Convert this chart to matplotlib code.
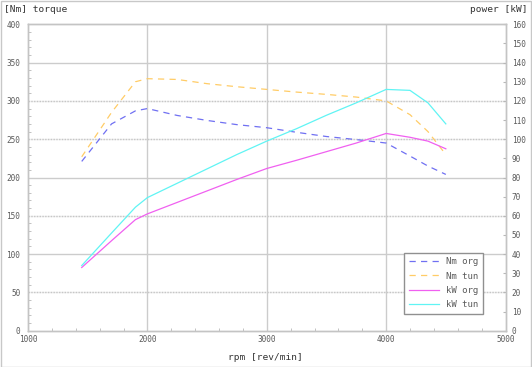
import matplotlib
matplotlib.use("Agg")
import matplotlib.pyplot as plt
from matplotlib.patches import Rectangle

plt.rcParams['lines.scale_dashes'] = False
plt.rcParams['font.family'] = ['DejaVu Sans Mono']

# ---- data ----
rpm = [1450, 1700, 1900, 2000, 2250, 2500, 2750, 3000, 3250, 3500, 3750, 4000, 4200, 4350, 4500]
nm_org = [221, 270, 287, 290, 281, 274.5, 269, 265, 259, 253.5, 249.5, 245, 228, 215, 204]
nm_tun = [227, 285, 325, 329, 328, 322.5, 318.5, 315, 311.5, 308.5, 305, 300, 282, 260, 230]
kw_org = [33, 47, 58, 61, 67, 73, 79, 84.7, 89, 93.5, 98, 103, 101, 99, 95]
kw_tun = [34, 51, 64.5, 69.5, 77, 84.5, 92, 99, 105.5, 112.5, 119, 126, 125.5, 119, 108]
series_labels = ["Nm org", "Nm tun", "kW org", "kW tun"]
x_ticks = [1000, 2000, 3000, 4000, 5000]
y_ticks = [0, 50, 100, 150, 200, 250, 300, 350, 400]
y2_ticks = list(range(0, 161, 10))

W, H = 532, 367
fig = plt.figure(figsize=(W / 100, H / 100), dpi=100)
L, R, B, T = 28, 505.5, 330.7, 24.3
ax = fig.add_axes([L / W, (H - B) / H, (R - L) / W, (B - T) / H])
ax2 = ax.twinx()

grey = '#cccccc'
txt = '#5a5a5a'

ax.set_xlim(1000, 5000)
ax.set_ylim(0, 400)
ax2.set_ylim(0, 160)

# grid
for v in [100, 200, 350]:
    ax.axhline(v, color=grey, lw=1.0, zorder=0)
for v in [50, 150, 250, 300]:
    ax.axhline(v, color='#eeeeee', lw=1.0, zorder=0)
    ax.axhline(v, color='#c6c6c6', lw=1.0, ls=(0, (1, 1)), zorder=0)
for v in [2000, 3000, 4000]:
    ax.axvline(v, color=grey, lw=1.0, zorder=0)

# spines
for s in ['left', 'bottom', 'top', 'right']:
    for a in (ax, ax2):
        a.spines[s].set_color('#c4c4c4')
        a.spines[s].set_linewidth(1.0)
for a in (ax, ax2):
    a.spines['top'].set_linestyle((0, (1, 1)))
    a.spines['bottom'].set_linestyle((0, (1, 1)))
ax2.spines['right'].set_linestyle((0, (1, 1)))

# lines
h1, = ax.plot(rpm, nm_org, color='#7070f2', lw=0.9, dashes=(4.5, 3.8), label=series_labels[0])
h2, = ax.plot(rpm, nm_tun, color='#ffcc66', lw=0.9, dashes=(4.5, 3.8), label=series_labels[1])
h3, = ax2.plot(rpm, kw_org, color='#f060f0', lw=0.9, label=series_labels[2])
h4, = ax2.plot(rpm, kw_tun, color='#60f4f4', lw=0.9, label=series_labels[3])

# ticks
ax.set_xticks(x_ticks)
ax.set_xticks(range(1000, 5001, 200), minor=True)
ax.set_yticks(y_ticks)
ax.set_yticks(range(0, 401, 10), minor=True)
ax2.set_yticks(y2_ticks)
ax.tick_params(axis='both', which='both', direction='in', colors='#b8b8b8',
               labelcolor=txt, labelsize=5.6)
ax.tick_params(axis='y', which='major', length=0, pad=5.5)
ax.tick_params(axis='y', which='minor', length=2.5)
ax.tick_params(axis='x', which='major', length=0, pad=3)
ax.tick_params(axis='x', which='minor', length=2.5)
ax2.tick_params(axis='y', which='major', direction='in', length=2.5, colors='#b8b8b8',
                labelcolor=txt, labelsize=5.6, pad=4.5)

# titles
fig.text(4 / W, 1 - 10 / H, "[Nm] torque", fontsize=6.8, color='#333333', ha='left', va='center')
fig.text(527 / W, 1 - 10 / H, "power [kW]", fontsize=6.8, color='#333333', ha='right', va='center')
fig.text(265 / W, 1 - 358 / H, "rpm [rev/min]", fontsize=6.8, color='#333333', ha='center', va='center')

# legend
leg = ax2.legend(handles=[h1, h2, h3, h4], loc='upper left',
                 bbox_to_anchor=((404 - L) / (R - L), (B - 252.7) / (B - T)),
                 borderaxespad=0, fontsize=6.5, frameon=True, fancybox=False,
                 edgecolor='#909090', framealpha=1, handlelength=3.4, handletextpad=0.8,
                 labelspacing=0.6, borderpad=0.5)
leg.get_frame().set_linewidth(1.0)
for t in leg.get_texts():
    t.set_color(txt)

# outer frame
fig.patches.append(Rectangle((0.5 / W, 0.5 / H), (W - 1.5) / W, (H - 1.5) / H,
                             transform=fig.transFigure, fill=False,
                             edgecolor='#c8c8c8', lw=1.0))

fig.savefig("out.png", dpi=100)
